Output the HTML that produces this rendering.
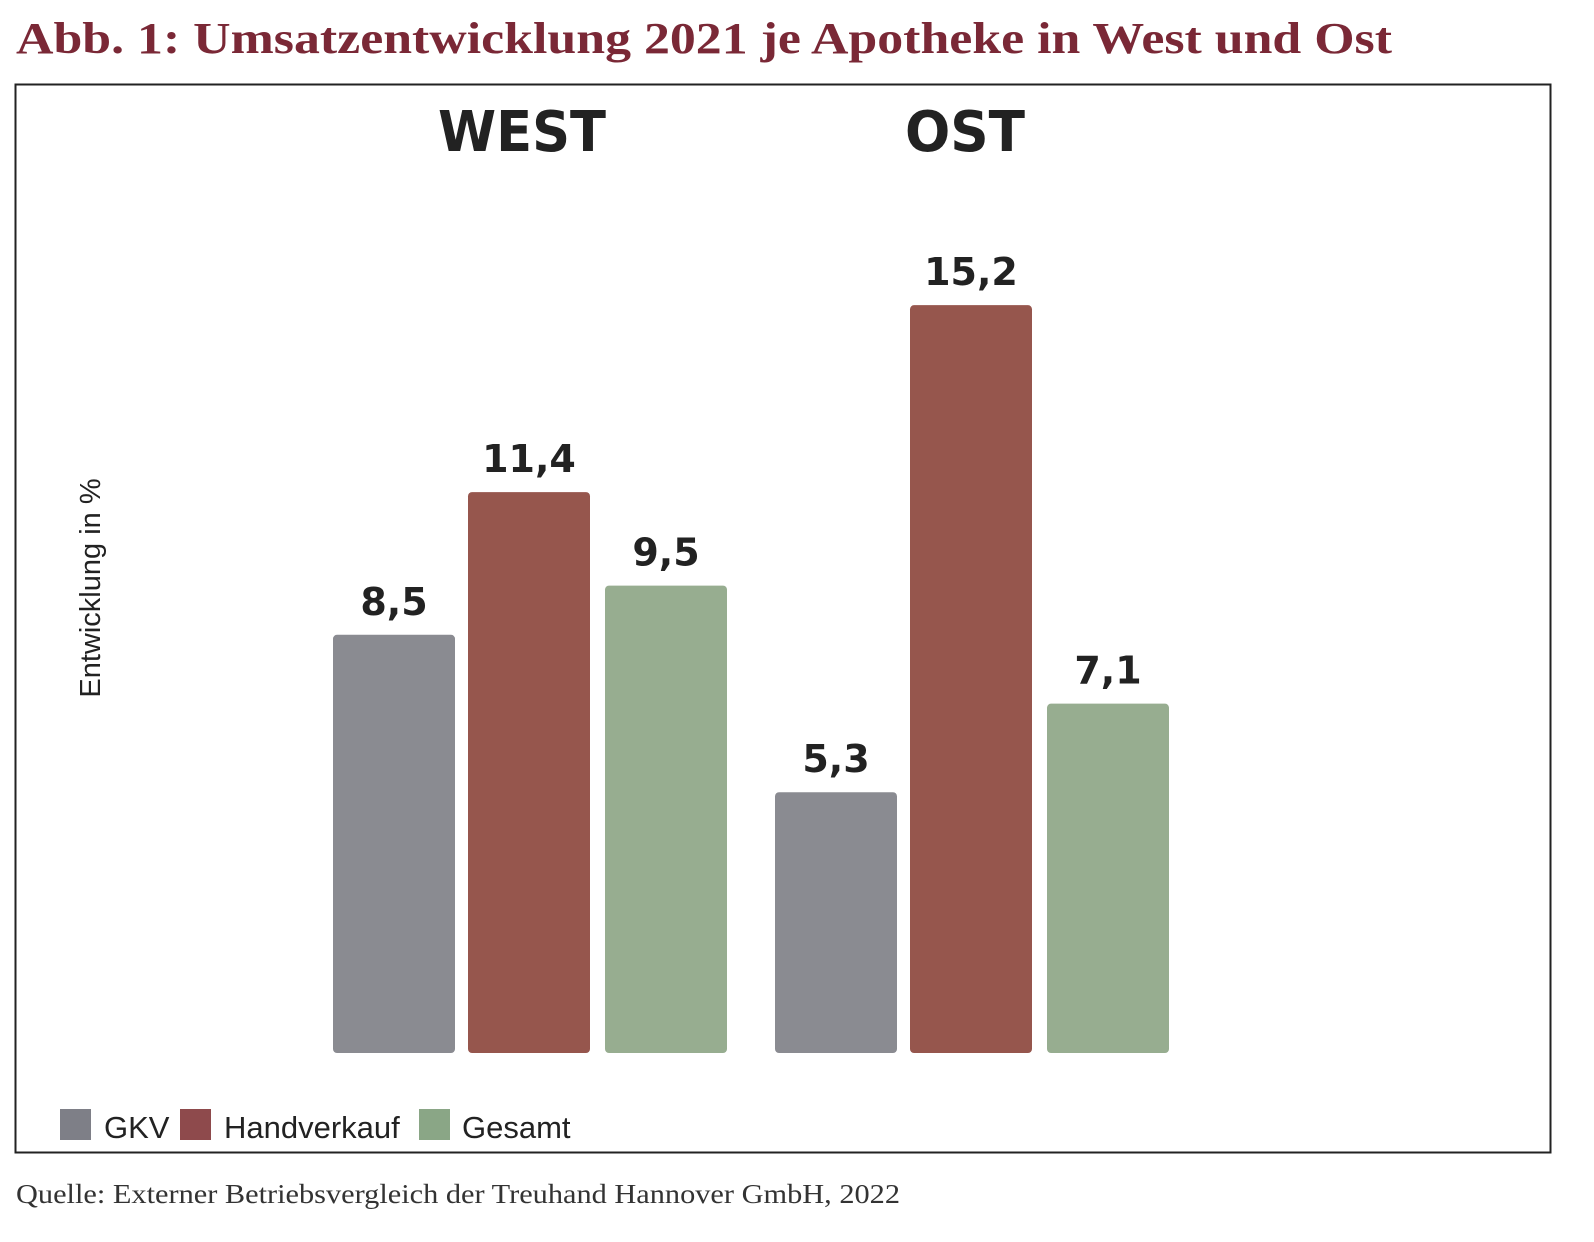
<!DOCTYPE html>
<html><head><meta charset="utf-8"><style>
body{margin:0;background:#fff;width:1594px;height:1242px;overflow:hidden;position:relative}
</style></head><body>
<svg width="1594" height="1242" style="position:absolute;left:0;top:0">
<text x="16" y="53" textLength="1376" lengthAdjust="spacingAndGlyphs" font-family="'Liberation Serif',serif" font-weight="bold" font-size="44" fill="#7a2836">Abb. 1: Umsatzentwicklung 2021 je Apotheke in West und Ost</text>
<rect x="15.5" y="84.5" width="1535" height="1068" fill="none" stroke="#222" stroke-width="2"/>
<text x="522" y="151" text-anchor="middle" font-family="'DejaVu Sans',sans-serif" font-weight="bold" font-size="56" fill="#222" textLength="168" lengthAdjust="spacingAndGlyphs">WEST</text>
<text x="965" y="151" text-anchor="middle" font-family="'DejaVu Sans',sans-serif" font-weight="bold" font-size="56" fill="#222" textLength="120" lengthAdjust="spacingAndGlyphs">OST</text>
<text transform="translate(100,588) rotate(-90)" text-anchor="middle" font-family="'Liberation Sans',sans-serif" font-size="29" fill="#222">Entwicklung in %</text>
<g id="bars"></g>
<rect x="60" y="1109" width="31" height="31" fill="#7e7f87"/>
<text x="104" y="1138" font-family="'Liberation Sans',sans-serif" font-size="31" fill="#222">GKV</text>
<rect x="180" y="1109" width="31" height="31" fill="#8e4a4c"/>
<text x="224" y="1138" font-family="'Liberation Sans',sans-serif" font-size="31" fill="#222">Handverkauf</text>
<rect x="419" y="1109" width="31" height="31" fill="#8aa686"/>
<text x="462" y="1138" font-family="'Liberation Sans',sans-serif" font-size="31" fill="#222">Gesamt</text>
<text x="16" y="1203" textLength="884" lengthAdjust="spacingAndGlyphs" font-family="'Liberation Serif',serif" font-size="27" fill="#333">Quelle: Externer Betriebsvergleich der Treuhand Hannover GmbH, 2022</text>
</svg>
<script>
const groups=["West","Ost"];
const series=["GKV","Handverkauf","Gesamt"];
const westValues=[8.5,11.4,9.5];
const ostValues=[5.3,15.2,7.1];
const labels=[["8,5","11,4","9,5"],["5,3","15,2","7,1"]];
const colors=["#8a8b91","#96564d","#97ad90"];
const base=1053, ppu=49.2;
const y=v=>base-v*ppu;
const groupX=[333,775], barX=[0,135,272], barW=122;
const g=document.getElementById('bars');
const NS='http://www.w3.org/2000/svg';
[westValues,ostValues].forEach((vals,gi)=>{
 vals.forEach((v,si)=>{
  const x=groupX[gi]+barX[si];
  const r=document.createElementNS(NS,'rect');
  r.setAttribute('x',x);r.setAttribute('y',y(v));r.setAttribute('width',barW);r.setAttribute('height',base-y(v));
  r.setAttribute('rx',4);r.setAttribute('fill',colors[si]);
  
  
  g.appendChild(r);
  const t=document.createElementNS(NS,'text');
  t.setAttribute('x',x+barW/2);t.setAttribute('y',y(v)-20);t.setAttribute('text-anchor','middle');
  t.setAttribute('font-family',"'DejaVu Sans',sans-serif");t.setAttribute('font-size','38');t.setAttribute('font-weight','bold');t.setAttribute('fill','#222');
  t.textContent=labels[gi][si];
  
  
  g.appendChild(t);
 });
});
</script>
</body></html>
